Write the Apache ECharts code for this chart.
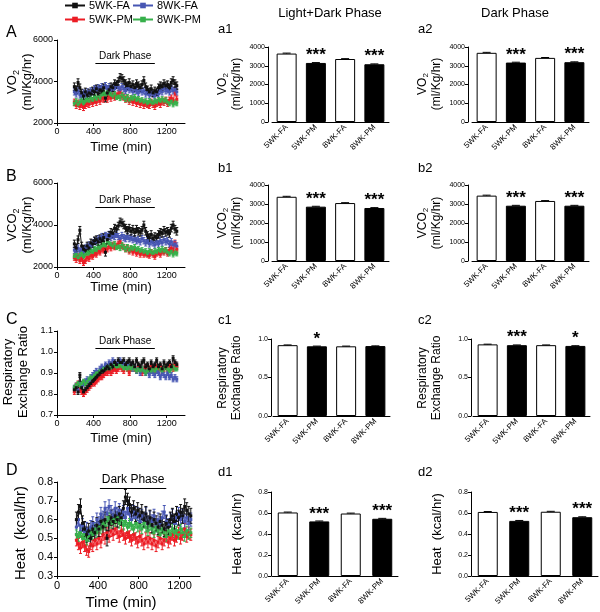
<!DOCTYPE html>
<html><head><meta charset="utf-8">
<script src="https://cdn.jsdelivr.net/npm/echarts@6/dist/echarts.min.js"></script>
<style>html,body{margin:0;padding:0;background:#fff}#c{width:600px;height:612px}</style>
</head><body><div id="c"></div>
<script>
// ---------- DATA ----------
const time = [190,210,230,250,270,290,310,330,350,370,390,410,430,450,470,490,510,530,550,570,590,610,630,650,670,690,710,730,750,770,790,810,830,850,870,890,910,930,950,970,990,1010,1030,1050,1070,1090,1110,1130,1150,1170,1190,1210,1230,1250,1270,1290,1310];
const groups = ['5WK-FA','5WK-PM','8WK-FA','8WK-PM'];

// Panel A: VO2 (ml/Kg/hr)
const vo2_5FA = [3750,3600,3950,3700,3450,3300,3500,3350,3450,3400,3550,3500,3650,3400,3600,3550,3700,3200,3450,3600,3750,3700,3900,3850,4000,4200,4150,4050,3900,3800,3950,3750,3850,3700,3900,3800,3700,3850,4050,3750,3600,3500,3650,3450,3550,3500,3700,3800,3750,3900,3800,3850,3700,3950,4050,3900,3800];
const vo2_5PM = [3000,2850,2950,2800,2900,2750,2850,2950,2900,3050,2950,3100,3000,3150,3050,3200,3150,3250,3150,3300,3200,3350,3250,3300,3400,3550,3300,3250,3150,3200,3050,3150,3000,3100,2950,3050,2900,3000,2850,2950,2900,2850,3000,2900,2800,2950,3000,2900,3050,3000,3100,2950,3100,3200,3050,3500,3150];
const vo2_8FA = [3500,3400,3550,3350,3300,3450,3350,3500,3400,3550,3500,3650,3600,3700,3650,3750,3700,3800,3650,3750,3600,3700,3650,3800,3700,3600,3750,3650,3550,3700,3600,3650,3500,3600,3550,3450,3600,3500,3550,3400,3500,3350,3450,3400,3300,3450,3400,3550,3500,3650,3550,3600,3500,3650,3550,3600,3500];
const vo2_8PM = [2950,3050,2900,3000,3100,2950,3050,3150,3050,3200,3100,3250,3150,3300,3200,3350,3450,3350,3500,3400,3350,3300,3400,3250,3300,3200,3350,3250,3150,3250,3100,3200,3150,3250,3100,3150,3050,3100,3000,3050,2950,3050,3000,2950,3050,3000,3100,3050,3150,3050,3100,3000,2950,3050,2900,3000,2950];
const vo2_err = [180,150,150,120];

// Panel B: VCO2 (ml/Kg/hr)
const vco2_5FA = [3100,2900,3300,3750,3000,2850,2800,3000,2900,3150,3100,3250,3300,3200,3350,3250,3400,2700,3300,3500,3650,3600,3850,3800,3950,4150,4100,4000,3850,3750,3850,3700,3800,3650,3800,3700,3650,3750,4000,3700,3500,3400,3550,3350,3450,3400,3550,3650,3600,3750,3650,3700,3600,3850,4000,3800,3700];
const vco2_5PM = [2450,2350,2500,2300,2400,2200,2300,2450,2400,2550,2500,2650,2600,2750,2700,2850,2800,2950,2850,3000,2900,3050,2950,3000,3100,3250,3000,2950,2850,2900,2750,2850,2700,2800,2650,2750,2600,2700,2600,2650,2600,2550,2700,2600,2500,2650,2700,2600,2750,2700,2800,2650,2800,2900,2750,3150,2850];
const vco2_8FA = [2800,2650,2900,2750,2850,2700,2900,2950,3050,3000,3150,3250,3200,3350,3300,3450,3400,3500,3450,3550,3400,3500,3450,3550,3450,3350,3500,3400,3350,3450,3350,3400,3300,3350,3250,3300,3200,3350,3250,3150,3250,3100,3200,3150,3050,3200,3100,3250,3150,3300,3200,3250,3100,3200,3050,3100,3000];
const vco2_8PM = [2500,2600,2450,2550,2650,2500,2600,2700,2650,2800,2700,2850,2800,2950,2900,3000,3100,3000,3200,3100,3050,3000,3100,2950,3000,2900,3050,2950,2850,2950,2800,2900,2850,2950,2800,2850,2750,2800,2700,2750,2650,2750,2700,2650,2750,2700,2800,2750,2850,2750,2800,2700,2650,2750,2600,2700,2650];
const vco2_err = [180,130,150,120];

// Panel C: Respiratory Exchange Ratio
const rer_5FA = [0.82,0.83,0.81,0.89,0.83,0.81,0.82,0.83,0.84,0.85,0.86,0.87,0.88,0.89,0.90,0.91,0.91,0.92,0.93,0.92,0.94,0.93,0.95,0.94,0.96,0.95,0.95,0.96,0.94,0.95,0.96,0.94,0.95,0.93,0.96,0.94,0.93,0.95,0.96,0.93,0.94,0.92,0.95,0.93,0.94,0.96,0.93,0.94,0.92,0.95,0.93,0.94,0.95,0.93,0.97,0.95,0.94];
const rer_5PM = [0.81,0.84,0.85,0.82,0.81,0.80,0.81,0.82,0.83,0.84,0.85,0.85,0.86,0.87,0.88,0.88,0.89,0.90,0.90,0.91,0.90,0.91,0.92,0.91,0.92,0.93,0.92,0.91,0.93,0.92,0.90,0.92,0.93,0.92,0.91,0.93,0.92,0.90,0.92,0.93,0.91,0.92,0.93,0.92,0.91,0.93,0.92,0.93,0.91,0.92,0.93,0.92,0.94,0.93,0.92,0.94,0.93];
const rer_8FA = [0.83,0.84,0.82,0.85,0.84,0.85,0.86,0.87,0.86,0.88,0.89,0.90,0.91,0.90,0.92,0.93,0.92,0.94,0.93,0.95,0.94,0.96,0.95,0.94,0.95,0.96,0.94,0.95,0.93,0.94,0.93,0.94,0.92,0.93,0.91,0.92,0.90,0.92,0.91,0.90,0.91,0.89,0.91,0.90,0.89,0.91,0.90,0.88,0.90,0.89,0.88,0.90,0.88,0.89,0.87,0.88,0.87];
const rer_8PM = [0.83,0.84,0.85,0.84,0.85,0.86,0.85,0.86,0.87,0.88,0.88,0.89,0.90,0.90,0.91,0.91,0.92,0.92,0.93,0.92,0.93,0.93,0.94,0.93,0.93,0.94,0.93,0.92,0.93,0.92,0.93,0.92,0.93,0.92,0.91,0.92,0.91,0.92,0.91,0.90,0.91,0.92,0.91,0.92,0.91,0.92,0.93,0.92,0.91,0.92,0.93,0.92,0.91,0.92,0.93,0.92,0.92];
const rer_err = [0.012,0.012,0.012,0.01];

// Panel D: Heat (kcal/hr)
const heat_5FA = [0.60,0.64,0.67,0.58,0.55,0.52,0.54,0.50,0.55,0.53,0.57,0.55,0.59,0.56,0.60,0.50,0.58,0.61,0.59,0.62,0.60,0.63,0.61,0.66,0.72,0.70,0.68,0.64,0.66,0.63,0.65,0.62,0.64,0.60,0.63,0.58,0.61,0.57,0.60,0.58,0.56,0.59,0.57,0.55,0.58,0.56,0.60,0.62,0.59,0.63,0.61,0.64,0.62,0.67,0.65,0.63,0.62];
const heat_5PM = [0.49,0.47,0.45,0.48,0.46,0.44,0.43,0.47,0.46,0.49,0.47,0.50,0.48,0.52,0.50,0.53,0.51,0.54,0.52,0.55,0.53,0.51,0.54,0.52,0.50,0.53,0.51,0.49,0.52,0.50,0.48,0.51,0.49,0.47,0.50,0.48,0.50,0.47,0.49,0.46,0.48,0.50,0.47,0.49,0.51,0.48,0.50,0.52,0.49,0.51,0.53,0.50,0.52,0.55,0.51,0.53,0.52];
const heat_8FA = [0.56,0.60,0.54,0.57,0.53,0.55,0.52,0.56,0.58,0.55,0.60,0.58,0.63,0.61,0.66,0.63,0.67,0.64,0.62,0.66,0.63,0.65,0.62,0.64,0.61,0.66,0.63,0.60,0.64,0.61,0.63,0.59,0.62,0.60,0.63,0.58,0.61,0.59,0.62,0.57,0.60,0.58,0.61,0.64,0.59,0.57,0.60,0.62,0.58,0.61,0.63,0.60,0.62,0.59,0.61,0.58,0.60];
const heat_8PM = [0.52,0.51,0.53,0.50,0.52,0.49,0.51,0.53,0.52,0.55,0.53,0.56,0.55,0.58,0.57,0.59,0.61,0.58,0.60,0.59,0.61,0.58,0.60,0.57,0.59,0.56,0.58,0.57,0.55,0.58,0.56,0.57,0.55,0.58,0.56,0.54,0.57,0.55,0.53,0.56,0.54,0.52,0.55,0.53,0.51,0.54,0.52,0.55,0.53,0.54,0.52,0.55,0.53,0.51,0.54,0.52,0.53];
const heat_err = [0.04,0.03,0.035,0.025];

// Bar panels (means, SEM, significance)
const barCats = ['5WK-FA','5WK-PM','8WK-FA','8WK-PM'];
const a1_vals = [3650,3150,3360,3080]; const a1_err = [25,20,20,20];
const a2_vals = [3690,3170,3420,3190]; const a2_err = [25,20,20,20];
const b1_vals = [3380,2860,3050,2790]; const b1_err = [25,20,20,20];
const b2_vals = [3440,2910,3160,2910]; const b2_err = [25,20,20,20];
const c1_vals = [0.92,0.905,0.905,0.908]; const c1_err = [0.003,0.003,0.003,0.003];
const c2_vals = [0.93,0.92,0.92,0.91]; const c2_err = [0.003,0.003,0.003,0.003];
const d1_vals = [0.605,0.52,0.595,0.545]; const d1_err = [0.004,0.004,0.004,0.004];
const d2_vals = [0.61,0.525,0.612,0.56]; const d2_err = [0.004,0.004,0.004,0.004];
const stars_a1 = ['','***','','***'];
const stars_a2 = ['','***','','***'];
const stars_b1 = ['','***','','***'];
const stars_b2 = ['','***','','***'];
const stars_c1 = ['','*','',''];
const stars_c2 = ['','***','','*'];
const stars_d1 = ['','***','','***'];
const stars_d2 = ['','***','','***'];

// Dark phase span (min)
const darkStart = 420, darkEnd = 1070;

// ---------- STYLE / LAYOUT ----------
const FONT = "'Liberation Sans', Arial, Helvetica, sans-serif";
const colors = {'5WK-FA':'#111111','5WK-PM':'#ec1c24','8WK-FA':'#4756b3','8WK-PM':'#36b04a'};
const drawOrder = ['5WK-PM','8WK-FA','8WK-PM','5WK-FA'];

const tsPanels = [
  {grid:{left:57,top:40,width:128,height:83}, min:2000,max:6000,interval:2000, vals:[vo2_5FA,vo2_5PM,vo2_8FA,vo2_8PM], err:vo2_err, dark:4880, dec:0, fs:9},
  {grid:{left:57,top:183,width:128,height:84}, min:2000,max:6000,interval:2000, vals:[vco2_5FA,vco2_5PM,vco2_8FA,vco2_8PM], err:vco2_err, dark:4860, dec:0, fs:9},
  {grid:{left:57,top:331,width:128,height:84}, min:0.7,max:1.1,interval:0.1, vals:[rer_5FA,rer_5PM,rer_8FA,rer_8PM], err:rer_err, dark:1.019, dec:1, fs:9},
  {grid:{left:57,top:482,width:143,height:94}, min:0.3,max:0.8,interval:0.1, vals:[heat_5FA,heat_5PM,heat_8FA,heat_8PM], err:heat_err, dark:0.768, dec:1, fs:11}
];
const barPanels = [
  {grid:{left:272,top:47,width:117,height:75}, off:4, max:4000, interval:1000, vals:a1_vals, err:a1_err, stars:stars_a1, dec:0},
  {grid:{left:472,top:47,width:117,height:75}, off:4, max:4000, interval:1000, vals:a2_vals, err:a2_err, stars:stars_a2, dec:0},
  {grid:{left:272,top:185,width:117,height:76}, off:4, max:4000, interval:1000, vals:b1_vals, err:b1_err, stars:stars_b1, dec:0},
  {grid:{left:472,top:185,width:117,height:76}, off:4, max:4000, interval:1000, vals:b2_vals, err:b2_err, stars:stars_b2, dec:0},
  {grid:{left:273,top:339,width:117,height:77}, off:2, max:1.0, interval:0.5, vals:c1_vals, err:c1_err, stars:stars_c1, dec:1},
  {grid:{left:473,top:339,width:117,height:77}, off:2, max:1.0, interval:0.5, vals:c2_vals, err:c2_err, stars:stars_c2, dec:1},
  {grid:{left:272,top:492,width:126,height:84}, off:1, max:0.8, interval:0.2, vals:d1_vals, err:d1_err, stars:stars_d1, dec:1},
  {grid:{left:472,top:492,width:126,height:84}, off:1, max:0.8, interval:0.2, vals:d2_vals, err:d2_err, stars:stars_d2, dec:1}
];
const barFill = ['#ffffff','#000000','#ffffff','#000000'];

const grids = [], xAxes = [], yAxes = [], series = [];
const axisLineStyle = {lineStyle:{color:'#000',width:1}};

tsPanels.forEach((p, i) => {
  grids.push(p.grid);
  xAxes.push({type:'value', gridIndex:i, min:0, max:1400, interval:400,
    axisLine:{show:true, onZero:false, ...axisLineStyle}, axisTick:{show:true, length:3, lineStyle:{color:'#000'}},
    splitLine:{show:false},
    axisLabel:{fontSize:p.fs, color:'#000', fontFamily:FONT, margin:4, showMaxLabel:false,
      formatter: v => (v % 400 === 0 ? String(v) : '')}});
  yAxes.push({type:'value', gridIndex:i, min:p.min, max:p.max, interval:p.interval,
    axisLine:{show:true, onZero:false, ...axisLineStyle}, axisTick:{show:true, length:3, lineStyle:{color:'#000'}},
    splitLine:{show:false},
    axisLabel:{fontSize:p.fs, color:'#000', fontFamily:FONT, margin:4, formatter: v => v.toFixed(p.dec)}});
  drawOrder.forEach(name => {
    const gi = groups.indexOf(name);
    const vals = p.vals[gi], e = p.err[gi];
    series.push({type:'custom', name:name+' SEM', xAxisIndex:i, yAxisIndex:i, silent:true,
      itemStyle:{color:colors[name]},
      data: time.map((t,k) => [t, vals[k], e]),
      renderItem: (params, api) => {
        const x = api.value(0), y = api.value(1), er = api.value(2);
        const hi = api.coord([x, y + er]), lo = api.coord([x, y - er]);
        const c = api.visual('color');
        return {type:'group', children:[
          {type:'line', shape:{x1:hi[0],y1:hi[1],x2:lo[0],y2:lo[1]}, style:{stroke:c, lineWidth:1}},
          {type:'line', shape:{x1:hi[0]-1.5,y1:hi[1],x2:hi[0]+1.5,y2:hi[1]}, style:{stroke:c, lineWidth:1}},
          {type:'line', shape:{x1:lo[0]-1.5,y1:lo[1],x2:lo[0]+1.5,y2:lo[1]}, style:{stroke:c, lineWidth:1}}
        ]};
      }});
    const s = {type:'line', name:name, xAxisIndex:i, yAxisIndex:i, silent:true,
      data: time.map((t,k) => [t, vals[k]]),
      symbol:'rect', symbolSize:3, showSymbol:true,
      itemStyle:{color:colors[name]}, lineStyle:{color:colors[name], width:1},
      emphasis:{disabled:true}, animation:false};
    if (name === '5WK-FA') {
      s.markLine = {silent:true, symbol:'none', animation:false,
        lineStyle:{color:'#000', width:1, type:'solid'},
        label:{show:true, position:'insideMiddleTop', formatter:'Dark Phase', color:'#000', fontSize:p.fs+1, fontFamily:FONT, distance:2},
        data:[[{coord:[darkStart, p.dark]},{coord:[darkEnd, p.dark]}]]};
    }
    series.push(s);
  });
});

barPanels.forEach((p, j) => {
  const i = tsPanels.length + j;
  grids.push(p.grid);
  xAxes.push({type:'category', gridIndex:i, data:barCats,
    axisLine:{show:true, ...axisLineStyle}, axisTick:{show:false},
    axisLabel:{fontSize:8, color:'#000', fontFamily:FONT, rotate:45, margin:4, interval:0}});
  yAxes.push({type:'value', gridIndex:i, min:0, max:p.max, interval:p.interval, offset:p.off,
    axisLine:{show:true, ...axisLineStyle}, axisTick:{show:true, length:3, lineStyle:{color:'#000'}},
    splitLine:{show:false},
    axisLabel:{fontSize:7, color:'#000', fontFamily:FONT, margin:3, formatter: v => v.toFixed(p.dec)}});
  series.push({type:'bar', xAxisIndex:i, yAxisIndex:i, silent:true, barWidth:20, animation:false,
    data: p.vals.map((v,k) => ({value:v, itemStyle:{color:barFill[k], borderColor:'#000', borderWidth:1}})),
    label:{show:true, position:'top', distance:-1, color:'#000', fontSize:17, fontWeight:'bold', fontFamily:FONT,
      formatter: q => p.stars[q.dataIndex]}});
  series.push({type:'custom', xAxisIndex:i, yAxisIndex:i, silent:true, animation:false, z:3,
    data: p.vals.map((v,k) => [k, v, p.err[k]]),
    renderItem: (params, api) => {
      const x = api.value(0), y = api.value(1), er = api.value(2);
      const top = api.coord([x, y + er]), base = api.coord([x, y]);
      return {type:'group', children:[
        {type:'line', shape:{x1:top[0],y1:top[1],x2:base[0],y2:base[1]}, style:{stroke:'#000', lineWidth:1}},
        {type:'line', shape:{x1:top[0]-4,y1:top[1],x2:top[0]+4,y2:top[1]}, style:{stroke:'#000', lineWidth:1}}
      ]};
    }});
});

// ---------- TEXT ----------
const rich = (fs) => ({
  n:{fontSize:fs, fontFamily:FONT, lineHeight:fs+2, verticalAlign:'top', fill:'#000', color:'#000'},
  s:{fontSize:Math.round(fs*0.7), fontFamily:FONT, lineHeight:Math.round(fs*0.7), padding:[Math.round(fs*0.45),0,0,0], verticalAlign:'top', fill:'#000', color:'#000'}
});
function T(x, y, text, o) {
  o = o || {};
  return {type:'text', x:x, y:y, rotation:o.rot||0, silent:true, z:100,
    style:{text:text, fontSize:o.fs||12, fontFamily:FONT, fontWeight:o.fw||'normal', fill:'#000',
      align:o.align||'center', textAlign:o.align||'center', verticalAlign:'middle', textVerticalAlign:'middle',
      rich:o.rich, lineHeight:o.lh}};
}
const R = Math.PI/2;
const graphics = [
  T(330, 13, 'Light+Dark Phase', {fs:13}),
  T(515, 13, 'Dark Phase', {fs:13}),
  T(6, 33, 'A', {fs:16, align:'left'}),
  T(6, 177, 'B', {fs:16, align:'left'}),
  T(6, 320, 'C', {fs:16, align:'left'}),
  T(6, 471, 'D', {fs:16, align:'left'}),
  T(218, 29, 'a1', {fs:13, align:'left'}),
  T(418, 29, 'a2', {fs:13, align:'left'}),
  T(218, 168, 'b1', {fs:13, align:'left'}),
  T(418, 168, 'b2', {fs:13, align:'left'}),
  T(218, 320, 'c1', {fs:13, align:'left'}),
  T(418, 320, 'c2', {fs:13, align:'left'}),
  T(218, 472, 'd1', {fs:13, align:'left'}),
  T(418, 472, 'd2', {fs:13, align:'left'}),
  T(21, 82, '{n|VO}{s|2}\n{n|(ml/Kg/hr)}', {fs:13, rot:R, rich:rich(13)}),
  T(21, 225, '{n|VCO}{s|2}\n{n|(ml/Kg/hr)}', {fs:13, rot:R, rich:rich(13)}),
  T(16, 372, 'Respiratory\nExchange Ratio', {fs:13, rot:R, lh:15}),
  T(21, 533, 'Heat  (kcal/hr)', {fs:15, rot:R}),
  T(231, 84, '{n|VO}{s|2}\n{n|(ml/Kg/hr)}', {fs:12, rot:R, rich:rich(12)}),
  T(431, 84, '{n|VO}{s|2}\n{n|(ml/Kg/hr)}', {fs:12, rot:R, rich:rich(12)}),
  T(231, 223, '{n|VCO}{s|2}\n{n|(ml/Kg/hr)}', {fs:12, rot:R, rich:rich(12)}),
  T(431, 223, '{n|VCO}{s|2}\n{n|(ml/Kg/hr)}', {fs:12, rot:R, rich:rich(12)}),
  T(230, 378, 'Respiratory\nExchange Ratio', {fs:12, rot:R, lh:14}),
  T(430, 378, 'Respiratory\nExchange Ratio', {fs:12, rot:R, lh:14}),
  T(237, 534, 'Heat  (kcal/hr)', {fs:13, rot:R}),
  T(437, 534, 'Heat  (kcal/hr)', {fs:13, rot:R}),
  T(121, 147, 'Time (min)', {fs:13}),
  T(121, 287, 'Time (min)', {fs:13}),
  T(121, 438, 'Time (min)', {fs:13}),
  T(121, 603, 'Time (min)', {fs:15})
];

const legendPos = {'5WK-FA':[64,0],'8WK-FA':[132,0],'5WK-PM':[64,14],'8WK-PM':[132,14]};
const legends = groups.map(g => ({data:[g], left:legendPos[g][0], top:legendPos[g][1], padding:0,
  itemWidth:20, itemHeight:7, itemGap:4, selectedMode:false,
  textStyle:{fontSize:11, color:'#000', fontFamily:FONT, padding:[0,0,0,-1]}}));

const chart = echarts.init(document.getElementById('c'), null, {renderer:'canvas'});
chart.setOption({
  backgroundColor:'#fff', animation:false,
  textStyle:{fontFamily:FONT},
  legend: legends,
  grid: grids, xAxis: xAxes, yAxis: yAxes, series: series,
  graphic: graphics
});
</script></body></html>
